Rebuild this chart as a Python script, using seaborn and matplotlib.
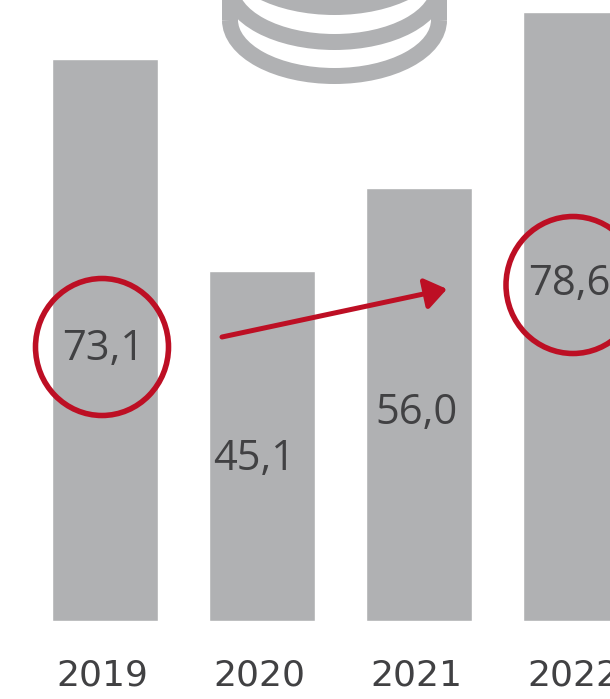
import matplotlib
matplotlib.use('Agg')
import matplotlib.pyplot as plt
from matplotlib.patches import Arc, Ellipse
from matplotlib.transforms import ScaledTranslation
import pandas as pd
import seaborn as sns

years = ['2019', '2020', '2021', '2022']
values = [73.2, 45.6, 56.4, 79.3]  # heights as drawn, a bit off the printed labels
labels = ['73,1', '45,1', '56,0', '78,6']

GREY = '#b0b1b3'
RED = '#bd0f24'
TEXT = '#414143'

sns.set_theme(style='white')
plt.rcParams['font.family'] = ['Open Sans', 'DejaVu Sans']

data = pd.DataFrame({'year': years, 'value': values})

fig = plt.figure(figsize=(6.1, 6.99), dpi=100)
ax = fig.add_axes([0, 78 / 699, 1, 621 / 699])
sns.barplot(data=data, x='year', y='value', color=GREY, saturation=1, width=0.67, ax=ax)
ax.set_xlim(-0.669, 3.217)
ax.set_ylim(0, 80.9)
ax.set_xlabel('')
ax.set_ylabel('')
ax.set_yticks([])
ax.tick_params(axis='x', length=0, pad=27, labelsize=26, labelcolor=TEXT)
shift = ScaledTranslation(-3 / 100, 0, fig.dpi_scale_trans)
for tick in ax.get_xticklabels():
    tick.set_fontfamily('DejaVu Sans')
    tick.set_transform(tick.get_transform() + shift)
sns.despine(ax=ax, left=True, bottom=True, top=True, right=True)

# overlay in pixel coords for the icon, circles and arrow
deco = fig.add_axes([0, 0, 1, 1], facecolor='none')
deco.set_xlim(0, 610)
deco.set_ylim(699, 0)
deco.axis('off')

# coin stack at the top, cut off by the edge
coin_lw = 16 * 0.72
deco.add_patch(Arc((334.5, 20), 209, 112, theta1=0, theta2=180, color=GREY, lw=coin_lw))
deco.plot([230, 230], [-5, 20], color=GREY, lw=coin_lw, solid_capstyle='butt')
deco.plot([439, 439], [-5, 20], color=GREY, lw=coin_lw, solid_capstyle='butt')
deco.add_patch(Arc((334.5, -14), 209, 112, theta1=0, theta2=180, color=GREY, lw=coin_lw))
deco.add_patch(Arc((334.5, -48), 209, 110, theta1=0, theta2=180, color=GREY, lw=coin_lw))

# value labels
label_pos = [(62, 349), (213, 459), (375, 413), (528, 284)]
for lab, (x, y) in zip(labels, label_pos):
    deco.text(x, y, lab, ha='left', va='center', fontsize=30, color=TEXT)

deco.add_patch(Ellipse((102, 347), 133, 137, fill=False, ec=RED, lw=4))
deco.add_patch(Ellipse((573, 285), 134, 137, fill=False, ec=RED, lw=4))

deco.annotate('', xy=(447, 289), xytext=(222, 337),
              arrowprops=dict(arrowstyle='-|>,head_length=0.65,head_width=0.47', color=RED,
                              lw=3.6, shrinkA=0, shrinkB=0, mutation_scale=20))

fig.savefig('out.png', dpi=100)
